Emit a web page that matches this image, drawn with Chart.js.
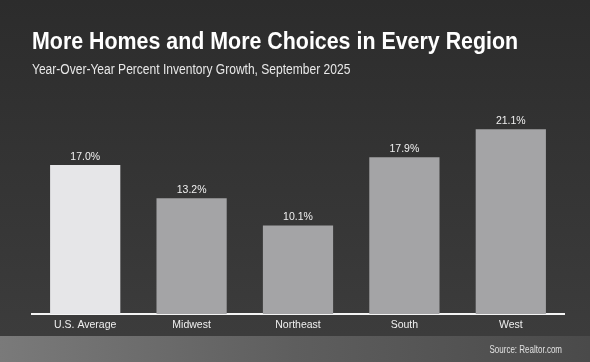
<!DOCTYPE html>
<html>
<head>
<meta charset="utf-8">
<script src="https://cdn.jsdelivr.net/npm/chart.js@4/dist/chart.umd.min.js"></script>
<style>
  html, body { margin: 0; padding: 0; background: #333; }
  #wrap { position: relative; width: 590px; height: 362px; }
</style>
</head>
<body>
<div id="wrap"><canvas id="myChart" width="590" height="362"></canvas></div>
<script>
const regions = ['U.S. Average', 'Midwest', 'Northeast', 'South', 'West'];
const growth = [17.0, 13.2, 10.1, 17.9, 21.1];
const barColors = ['#e6e6e8', '#a4a4a6', '#a4a4a6', '#a4a4a6', '#a4a4a6'];

const titleText = 'More Homes and More Choices in Every Region';
const subtitleText = 'Year-Over-Year Percent Inventory Growth, September 2025';
const sourceText = 'Source: Realtor.com';

const fontFamily = '"Liberation Sans", Arial, sans-serif';

// the reference type is a bit condensed, so squeeze it horizontally
function narrowText(ctx, text, x, y, sx) {
    ctx.save();
    ctx.translate(x, y);
    ctx.scale(sx, 1);
    ctx.fillText(text, 0, 0);
    ctx.restore();
}

const backdrop = {
    id: 'backdrop',
    beforeDraw: (chart) => {
        const ctx = chart.ctx;
        const w = chart.width, h = chart.height;
        ctx.save();
        let g = ctx.createLinearGradient(0, 0, 0, 336);
        g.addColorStop(0, '#2c2c2c');
        g.addColorStop(1, '#3c3c3c');
        ctx.fillStyle = g;
        ctx.fillRect(0, 0, w, 336);
        g = ctx.createLinearGradient(0, 0, w, 0);
        g.addColorStop(0, '#7a7a7a');
        g.addColorStop(0.5, '#5e5e5e');
        g.addColorStop(1, '#4a4a4a');
        ctx.fillStyle = g;
        ctx.fillRect(0, 336, w, h - 336);

        ctx.textBaseline = 'alphabetic';
        ctx.textAlign = 'left';
        ctx.fillStyle = '#ffffff';
        ctx.font = 'bold 24.5px ' + fontFamily;
        narrowText(ctx, titleText, 32, 49, 0.873);
        ctx.fillStyle = '#e8e8e8';
        ctx.font = '14px ' + fontFamily;
        narrowText(ctx, subtitleText, 32, 74, 0.86);

        ctx.textAlign = 'right';
        ctx.fillStyle = '#e0e0e0';
        ctx.font = '10px ' + fontFamily;
        narrowText(ctx, sourceText, 562, 353, 0.8);
        ctx.restore();
    },
    afterDatasetsDraw: (chart) => {
        const ctx = chart.ctx;
        ctx.save();
        ctx.font = '10.5px ' + fontFamily;
        ctx.fillStyle = '#f0f0f0';
        ctx.textAlign = 'center';
        ctx.textBaseline = 'bottom';
        chart.getDatasetMeta(0).data.forEach((bar, i) => {
            ctx.fillText(growth[i].toFixed(1) + '%', bar.x, bar.y - 3);
        });
        ctx.restore();
    }
};

const ctx = document.getElementById('myChart').getContext('2d');
const myChart = new Chart(ctx, {
    type: 'bar',
    data: {
        labels: regions,
        datasets: [{
            data: growth,
            backgroundColor: barColors,
            borderWidth: 0,
            barPercentage: 0.66,
            categoryPercentage: 1.0
        }]
    },
    options: {
        responsive: false,
        animation: false,
        layout: { padding: { left: 32, right: 26, top: 95, bottom: 0 } },
        plugins: {
            legend: { display: false },
            tooltip: { enabled: false }
        },
        scales: {
            x: {
                grid: { display: false, drawTicks: false },
                border: { display: true, color: '#f4f4f4', width: 2 },
                ticks: {
                    color: '#f0f0f0',
                    padding: 5,
                    font: { family: fontFamily, size: 10.5 }
                },
                afterFit: (scale) => { scale.height = 48; }
            },
            y: {
                display: false,
                min: 0,
                max: 25
            }
        }
    },
    plugins: [backdrop]
});
</script>
</body>
</html>
